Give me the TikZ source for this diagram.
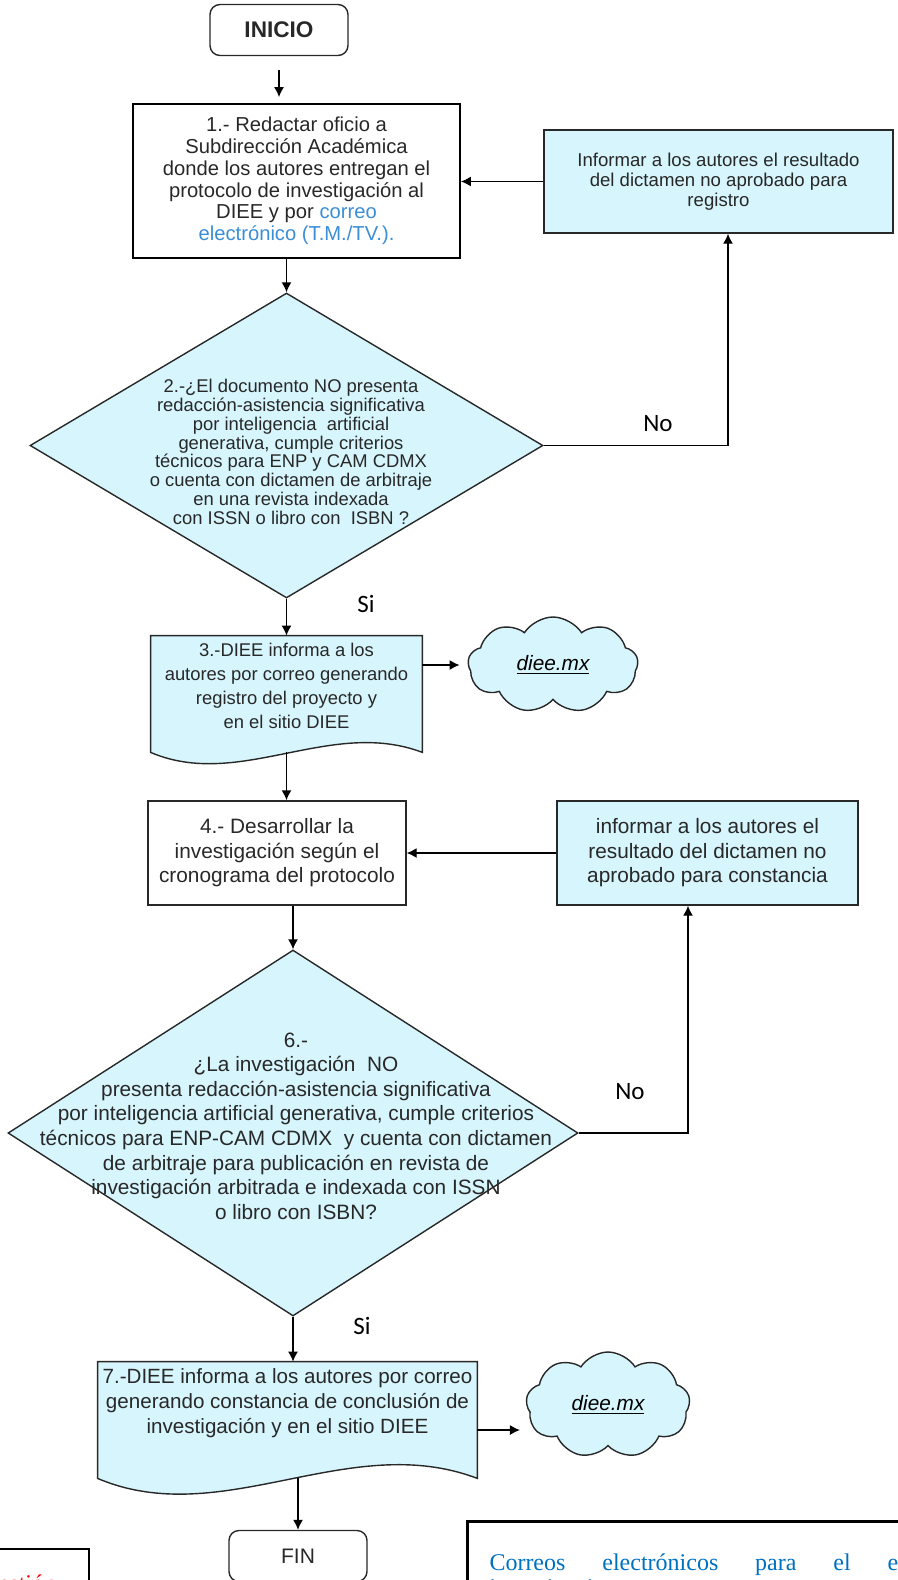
\documentclass[tikz,border=0pt]{standalone}
\usepackage{fontspec}
\setmainfont{Liberation Sans}
\newfontfamily\calibri{Carlito}
\newfontfamily\serifa{Liberation Serif}
\usetikzlibrary{shapes.geometric,shapes.symbols,arrows.meta,backgrounds}

\definecolor{celeste}{RGB}{214,245,252}
\definecolor{tinta}{RGB}{40,40,40}
\definecolor{enlace}{RGB}{58,142,214}
\definecolor{azulw}{RGB}{0,112,192}

\begin{document}
\begin{tikzpicture}[x=0.5pt,y=-0.5pt,
    linea/.style={draw=tinta,line width=0.7pt},
    flecha/.style={draw=black,line width=0.7pt,-{Latex[length=5pt,width=5pt]}},
    caja/.style={linea,rectangle,inner sep=0pt,align=center,text=tinta},
    ovalo/.style={caja,rounded corners=5pt,minimum width=69pt,minimum height=25.5pt},
    rombo/.style={linea,diamond,fill=celeste,inner sep=0pt},
    hoja/.style={rectangle,inner sep=0pt},
    texto/.style={align=center,text=tinta,inner sep=0pt},
    nube/.style={linea,cloud,cloud puffs=9,cloud puff arc=115,aspect=1.7,fill=celeste,inner sep=0pt,font=\fontsize{10.4}{12}\selectfont\itshape},
    etiq/.style={font=\calibri\fontsize{12.5}{14}\selectfont}]
  \useasboundingbox (0,0) rectangle (898,1580);

  \node[ovalo,font=\fontsize{11.3}{13}\selectfont\bfseries] (A) at (279,30) {INICIO};
  \node[caja,draw=black,line width=0.9pt,minimum width=163.5pt,minimum height=77pt,font=\fontsize{10.1}{10.9}\selectfont] (B) at (296.5,181) {1.- Redactar oficio a\\Subdirección Académica\\donde los autores entregan el\\protocolo de investigación al\\DIEE y por \textcolor{enlace}{correo}\\\textcolor{enlace}{electrónico (T.M./TV.).}};
  \node[caja,fill=celeste,minimum width=174.5pt,minimum height=51.5pt,font=\fontsize{9.3}{10}\selectfont] (C) at (718.5,181.5) {Informar a los autores el resultado\\del dictamen no aprobado para\\registro};

  \node[rombo,minimum width=256.5pt,minimum height=152.5pt] (D) at (286.5,445.5) {};
  \node[texto,font=\fontsize{9.2}{9.4}\selectfont] (Dt) at (291,452) {2.-¿El documento NO presenta\\redacción-asistencia significativa\\por inteligencia\ \ artificial\\generativa, cumple criterios\\técnicos para ENP y CAM CDMX\\o cuenta con dictamen de arbitraje\\en una revista indexada\\con ISSN o libro con\ \ ISBN ?};
  \node[etiq] (No1) at (658,424) {No};
  \node[etiq] (Si1) at (366,604) {Si};

  \node[hoja,minimum width=135.5pt,minimum height=58pt] (E) at (286.5,694) {};
  \node[texto,font=\fontsize{9.2}{12}\selectfont] (Et) at (286.5,686) {3.-DIEE informa a los\\autores por correo generando\\registro del proyecto y\\en el sitio DIEE};
  \node[nube,minimum width=85pt,minimum height=48pt] (F) at (553,665) {\underline{diee.mx}};

  \node[caja,minimum width=129pt,minimum height=52pt,font=\fontsize{10.4}{12.3}\selectfont] (G) at (277,853) {4.- Desarrollar la\\investigación según el\\cronograma del protocolo};
  \node[caja,fill=celeste,minimum width=150.5pt,minimum height=52pt,font=\fontsize{10.4}{12.3}\selectfont] (H) at (707.5,853) {informar a los autores el\\resultado del dictamen no\\aprobado para constancia};

  \node[rombo,minimum width=285pt,minimum height=183pt] (K) at (293,1133) {};
  \node[texto,font=\fontsize{10.4}{12.3}\selectfont] (Kt) at (296,1126) {6.-\\¿La investigación\ \ NO\\presenta redacción-asistencia significativa\\por inteligencia artificial generativa, cumple criterios\\técnicos para ENP-CAM CDMX\ \ y cuenta con dictamen\\de arbitraje para publicación en revista de\\investigación arbitrada e indexada con ISSN\\o libro con ISBN?};
  \node[etiq] (No2) at (630,1092) {No};
  \node[etiq] (Si2) at (362,1326) {Si};

  \node[hoja,minimum width=189.5pt,minimum height=58pt] (L) at (287.5,1420) {};
  \node[texto,font=\fontsize{10.3}{12.5}\selectfont] (Lt) at (287.5,1403) {7.-DIEE informa a los autores por correo\\generando constancia de conclusión de\\investigación y en el sitio DIEE};
  \node[nube,minimum width=82pt,minimum height=53pt] (M) at (608,1405) {\underline{diee.mx}};

  \node[ovalo,font=\fontsize{10.5}{12}\selectfont] (N) at (298,1556) {FIN};
  \node[draw=black,line width=1.2pt,anchor=north east,minimum width=70pt,inner xsep=3pt,inner ysep=13pt,text=red,font=\serifa\fontsize{12}{14}\selectfont] (R) at (90,1548) {Gestión};
  \node[draw=black,line width=1.5pt,anchor=north west,text width=255.5pt,inner xsep=11pt,inner ysep=16pt,align=justify,text=azulw,font=\serifa\fontsize{12}{12.5}\selectfont] (S) at (466,1520) {Correos electrónicos para el envío de\linebreak investigaciones:};

  \begin{scope}[on background layer]
    \draw[linea,fill=celeste] (E.north west) -- (E.north east) -- (E.south east) .. controls +(-92,-35) and +(89,38) .. (E.south west) -- cycle;
    \draw[linea,fill=celeste] (L.north west) -- (L.north east) -- (L.south east) .. controls +(-129,-49) and +(125,53) .. (L.south west) -- cycle;
  \end{scope}

  \coordinate (d1) at (728,445.5);
  \coordinate (k1) at (688,1133);
  \draw[flecha,shorten <=7pt,shorten >=3pt] (A.south) -- (A.south |- B.north);
  \draw[flecha] (C.west) -- (C.west -| B.east);
  \draw[flecha] (B.south -| D.north) -- (D.north);
  \draw[flecha] (D.east) -- (d1) -- (d1 |- C.south);
  \draw[flecha] (D.south) -- (E.north);
  \draw[flecha,shorten >=4pt] (F.west -| E.east) -- (F.west);
  \draw[flecha] (E.south) -- (E.south |- G.north);
  \draw[flecha] (H.west) -- (G.east);
  \draw[flecha] (G.south -| K.north) -- (K.north);
  \draw[flecha] (K.east) -- (k1) -- (k1 |- H.south);
  \draw[flecha] (K.south) -- (K.south |- L.north);
  \draw[flecha,shorten >=3pt] ([yshift=-5pt]L.east) -- ([yshift=-5pt]L.east -| M.west);
  \draw[flecha] (N.north |- L.south) -- (N.north);
\end{tikzpicture}
\end{document}
